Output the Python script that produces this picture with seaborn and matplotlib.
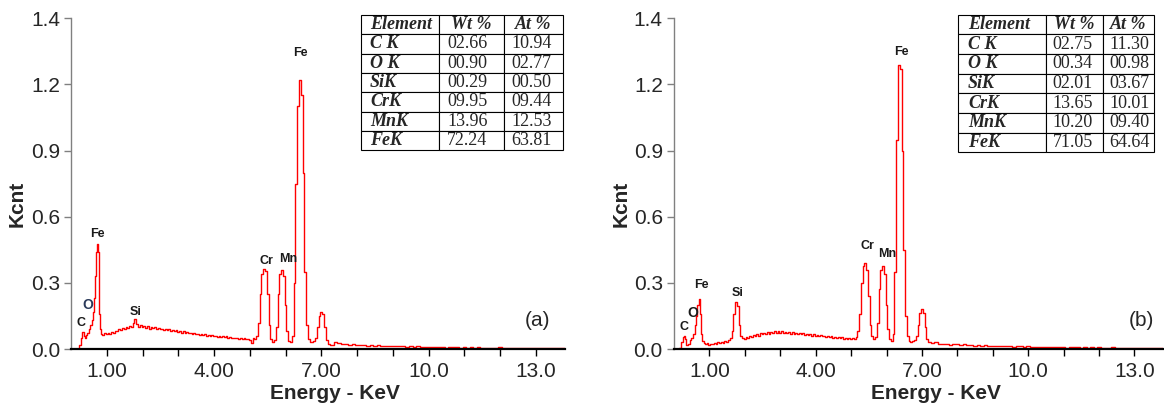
import matplotlib
matplotlib.use("Agg")
import matplotlib.pyplot as plt
import seaborn as sns
import pandas as pd

# -------------------------------
# EDS spectra (energy in keV, counts in Kcnt)
# low-energy start of each spectrum
energy_start_a = [0.00, 0.10, 0.20, 0.25, 0.30, 0.34, 0.37, 0.40, 0.44, 0.48, 0.52, 0.56,
                  0.60, 0.63, 0.66, 0.69, 0.72, 0.74, 0.76, 0.78, 0.80, 0.83, 0.86]
energy_start_b = [0.00, 0.10, 0.18, 0.24, 0.28, 0.30, 0.33, 0.37, 0.42, 0.47, 0.52, 0.56,
                  0.60, 0.64, 0.68, 0.71, 0.74, 0.77, 0.82, 0.86]
# shared energy channels after that
energy_low = [0.90, 0.95, 1.00, 1.05, 1.10, 1.15, 1.20, 1.25, 1.30, 1.35,
              1.40, 1.45, 1.50, 1.55, 1.60, 1.65, 1.70, 1.75, 1.80, 1.85,
              1.90, 1.95, 2.00, 2.05, 2.10, 2.15, 2.20, 2.25, 2.30, 2.35,
              2.40, 2.45, 2.50, 2.55, 2.60, 2.65, 2.70, 2.75, 2.80, 2.85,
              2.90, 2.95, 3.00, 3.05, 3.10, 3.15, 3.20, 3.25, 3.30, 3.35,
              3.40, 3.45, 3.50, 3.55, 3.60, 3.65, 3.70, 3.75, 3.80, 3.85,
              3.90, 3.95, 4.00, 4.05, 4.10, 4.15, 4.20, 4.25, 4.30, 4.35,
              4.40, 4.45, 4.50, 4.55, 4.60, 4.65, 4.70, 4.75, 4.80, 4.85,
              4.90, 4.95, 5.00, 5.05, 5.10]
energy_peaks = [5.15, 5.20, 5.25, 5.30, 5.35, 5.40, 5.45, 5.50, 5.55, 5.60,
                5.65, 5.70, 5.75, 5.80, 5.85, 5.90, 5.95, 6.00, 6.05, 6.10,
                6.15, 6.20, 6.25, 6.30, 6.35, 6.40, 6.45, 6.50, 6.55, 6.60,
                6.65, 6.70, 6.75, 6.80, 6.85, 6.90, 6.95, 7.00, 7.05, 7.10,
                7.15, 7.20]
energy_tail = [7.3, 7.4, 7.5, 7.6, 7.7, 7.8, 7.9, 8.0, 8.1, 8.2,
               8.3, 8.4, 8.5, 8.6, 8.7, 8.8, 8.9, 9.0, 9.1, 9.2,
               9.3, 9.4, 9.5, 9.6, 9.7, 9.8, 9.9, 10.0, 10.1, 10.2,
               10.3, 10.4, 10.5, 10.6, 10.7, 10.8, 10.9, 11.0, 11.1, 11.2,
               11.3, 11.4, 11.5, 11.6, 11.7, 11.8, 11.9, 12.0, 12.1, 12.2,
               12.3, 12.4, 12.5, 12.6, 12.7, 12.8, 12.9, 13.0, 13.1, 13.2,
               13.3, 13.4, 13.5, 13.6, 13.7, 13.8]

kcnt_a = [0.000, 0.000, 0.002, 0.020, 0.050, 0.078, 0.060, 0.050, 0.065, 0.072, 0.090, 0.110,
          0.130, 0.170, 0.230, 0.330, 0.440, 0.475, 0.440, 0.300, 0.160, 0.090, 0.070,
          # 0.90 - 5.10
          .065, .072, .066, .075, .070, .078, .073, .084, .080, .090,
          .086, .097, .091, .100, .095, .104, .099, .117, .135, .113,
          .101, .107, .098, .103, .096, .104, .093, .099, .094, .100,
          .089, .096, .090, .093, .085, .092, .086, .089, .083, .088,
          .080, .085, .079, .081, .074, .080, .073, .076, .071, .075,
          .068, .074, .067, .070, .064, .069, .063, .066, .061, .065,
          .059, .063, .058, .061, .056, .060, .055, .057, .053, .057,
          .051, .055, .050, .052, .048, .052, .047, .049, .045, .049,
          .044, .047, .043, .028, .048,
          # 5.15 - 7.20 (Cr, Mn, Fe K-alpha, Fe K-beta)
          .045, .060, .120, .250, .340, .365, .355, .250, .110, .045,
          .032, .040, .100, .250, .340, .360, .330, .200, .080, .035,
          .030, .060, .300, .750, 1.100, 1.220, 1.150, .800, .350, .110,
          .045, .030, .032, .035, .050, .100, .150, .170, .160, .100,
          .040, .022,
          # 7.3 - 13.8
          .020, .030, .028, .021, .023, .018, .021, .019, .017, .020,
          .016, .018, .015, .017, .014, .016, .013, .015, .012, .014,
          .013, .011, .013, .010, .012, .011, .009, .011, .010, .008,
          .010, .009, .007, .009, .008, .010, .007, .008, .006, .008,
          .007, .009, .006, .007, .005, .007, .006, .008, .005, .006,
          .005, .007, .004, .006, .005, .006, .004, .005, .004, .006,
          .004, .005, .003, .005, .004, .004]

kcnt_b = [0.000, 0.000, 0.005, 0.030, 0.055, 0.060, 0.045, 0.018, 0.025, 0.040, 0.050, 0.070,
          0.110, 0.150, 0.200, 0.225, 0.160, 0.070, 0.035, 0.027,
          # 0.90 - 5.10
          .022, .026, .020, .025, .022, .028, .024, .030, .026, .033,
          .029, .036, .034, .042, .048, .080, .160, .212, .195, .110,
          .058, .052, .047, .053, .050, .060, .055, .064, .060, .066,
          .061, .071, .066, .074, .068, .077, .070, .079, .072, .080,
          .073, .081, .074, .080, .072, .079, .071, .078, .070, .076,
          .069, .075, .067, .073, .066, .071, .064, .070, .063, .068,
          .061, .066, .060, .065, .058, .063, .057, .061, .055, .060,
          .053, .058, .052, .056, .050, .055, .049, .053, .047, .052,
          .046, .050, .045, .049, .044,
          # 5.15 - 7.20
          .055, .080, .160, .300, .375, .392, .360, .240, .110, .060,
          .045, .055, .120, .270, .360, .376, .340, .200, .090, .045,
          .036, .070, .350, .950, 1.287, 1.270, .900, .450, .150, .060,
          .038, .032, .035, .040, .060, .110, .165, .180, .165, .100,
          .045, .030,
          # 7.3 - 13.8
          .028, .032, .025, .023, .025, .020, .023, .021, .018, .021,
          .017, .019, .016, .018, .015, .017, .014, .016, .013, .015,
          .014, .012, .014, .011, .013, .012, .010, .012, .011, .009,
          .011, .010, .008, .010, .009, .011, .008, .009, .007, .009,
          .008, .010, .007, .008, .006, .008, .007, .009, .006, .007,
          .006, .008, .005, .007, .006, .007, .005, .006, .005, .007,
          .005, .006, .004, .006, .005, .005]

energy_a = energy_start_a + energy_low + energy_peaks + energy_tail
energy_b = energy_start_b + energy_low + energy_peaks + energy_tail

# peak labels: (text, energy, kcnt)
peaks_a = [("C", 0.28, 0.118), ("O", 0.47, 0.200), ("Fe", 0.75, 0.520), ("Si", 1.82, 0.168),
           ("Cr", 5.47, 0.400), ("Mn", 6.06, 0.410), ("Fe", 6.42, 1.340)]
peaks_b = [("C", 0.28, 0.100), ("O", 0.53, 0.163), ("Fe", 0.76, 0.290), ("Si", 1.79, 0.254),
           ("Cr", 5.46, 0.467), ("Mn", 6.02, 0.430), ("Fe", 6.41, 1.346)]

# composition tables
elements = ["C K", "O K", "SiK", "CrK", "MnK", "FeK"]
wt_a = ["02.66", "00.90", "00.29", "09.95", "13.96", "72.24"]
at_a = ["10.94", "02.77", "00.50", "09.44", "12.53", "63.81"]
wt_b = ["02.75", "00.34", "02.01", "13.65", "10.20", "71.05"]
at_b = ["11.30", "00.98", "03.67", "10.01", "09.40", "64.64"]

# axis ticks
x_major = [1, 4, 7, 10, 13]
x_major_labels = ["1.00", "4.00", "7.00", "10.0", "13.0"]
x_minor = [2, 3, 5, 6, 8, 9, 11, 12]
y_ticks = [0.0, 0.3, 0.6, 0.9, 1.2, 1.5]
y_tick_labels = ["0.0", "0.3", "0.6", "0.9", "1.2", "1.4"]

# -------------------------------
sns.set_theme(style="ticks")
plt.rcParams["font.family"] = ["Liberation Sans", "DejaVu Sans"]

fig = plt.figure(figsize=(11.64, 4.04), dpi=100)
ax_a = fig.add_axes([0.061, 0.136, 0.424, 0.819])
ax_b = fig.add_axes([0.579, 0.136, 0.420, 0.819])


def draw_panel(ax, energy, kcnt, peaks, wt, at, tag, table_x):
    df = pd.DataFrame({"energy": energy, "kcnt": kcnt})
    sns.lineplot(data=df, x="energy", y="kcnt", ax=ax, color="#ff0000", lw=1.0,
                 drawstyle="steps-mid", estimator=None)
    ax.set_xlim(0, 13.8)
    ax.set_ylim(0, 1.5)

    ax.set_xticks(x_major)
    ax.set_xticklabels(x_major_labels)
    ax.set_xticks(x_minor, minor=True)
    ax.set_yticks(y_ticks)
    ax.set_yticklabels(y_tick_labels)
    ax.tick_params(axis="x", which="both", length=5, width=1, color="black",
                   labelsize=15, pad=4, direction="out")
    ax.tick_params(axis="y", length=5, width=1, color="#808080", labelsize=15,
                   pad=3, direction="out")

    sns.despine(ax=ax)
    ax.spines["left"].set_color("#808080")
    ax.spines["left"].set_linewidth(1.0)
    ax.spines["bottom"].set_color("black")
    ax.spines["bottom"].set_linewidth(1.6)

    ax.set_xlabel("Energy - KeV", fontsize=15, fontweight="bold")
    ax.xaxis.set_label_coords(0.535, -0.105)
    ax.set_ylabel("Kcnt", fontsize=15, fontweight="bold")
    ax.yaxis.set_label_coords(-0.089, 0.44)

    for name, x, y in peaks:
        color = "#2a3a5a" if (name == "O" and tag[0] == "(a)") else "#1a1a1a"
        size = 10 if name == "O" else 9
        ax.text(x, y, name, ha="center", va="center", fontsize=size,
                fontweight="bold", color=color)

    ax.text(tag[1], 0.085, tag[0], transform=ax.transAxes, ha="center",
            va="center", fontsize=15)

    cells = [["Element", "Wt %", "At %"]] + [[e, w, a] for e, w, a in zip(elements, wt, at)]
    tbl = ax.table(cellText=cells, cellLoc="left", bbox=table_x[0],
                   colWidths=table_x[1])
    tbl.auto_set_font_size(False)
    for (r, c), cell in tbl.get_celld().items():
        cell.set_edgecolor("black")
        cell.set_linewidth(0.8)
        cell.set_facecolor("white")
        cell.PAD = 0.12
        txt = cell.get_text()
        txt.set_fontfamily("Liberation Serif")
        txt.set_fontsize(13)
        if r == 0 or c == 0:
            txt.set_fontweight("bold")
            txt.set_fontstyle("italic")
        if r == 0 and c > 0:
            txt.set_ha("center")
            cell._loc = "center"


draw_panel(ax_a, energy_a, kcnt_a, peaks_a, wt_a, at_a, ("(a)", 0.945),
           ([0.587, 0.601, 0.409, 0.409], [0.39, 0.32, 0.29]))
draw_panel(ax_b, energy_b, kcnt_b, peaks_b, wt_b, at_b, ("(b)", 0.957),
           ([0.580, 0.595, 0.402, 0.415], [0.45, 0.29, 0.26]))

plt.savefig("out.png", dpi=100)
